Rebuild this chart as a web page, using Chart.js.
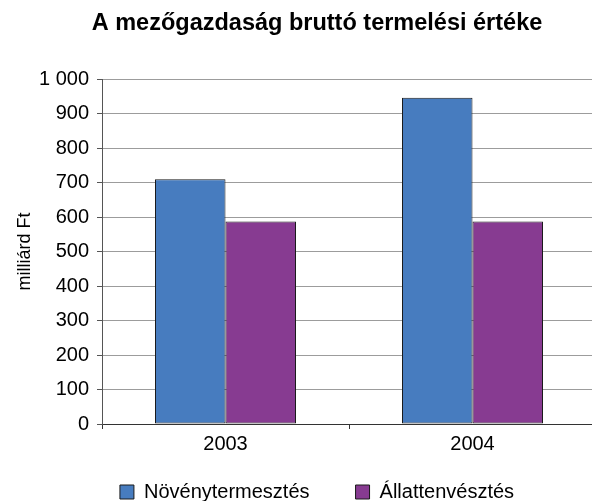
<!DOCTYPE html>
<html>
<head>
<meta charset="utf-8">
<script src="https://cdn.jsdelivr.net/npm/chart.js@4/dist/chart.umd.min.js"></script>
<style>
  html, body { margin: 0; padding: 0; background: #fff; overflow: hidden; }
  #wrap { width: 634px; height: 512px; }
</style>
</head>
<body>
<div id="wrap"><canvas id="chart" width="634" height="512"></canvas></div>
<script>
// --- datos ---
const years = ['2003', '2004'];
const crop = [710, 946];       // Növénytermesztés
const animal = [587, 587];     // Állattenvésztés
const seriesNames = ['Növénytermesztés', 'Állattenvésztés'];
const yMin = 0, yMax = 1000, yStep = 100;

const FONT = "'Liberation Sans', Arial, sans-serif";

// 1000 -> "1 000"
function fmt(v) {
    return String(v).replace(/\B(?=(\d{3})+(?!\d))/g, ' ');
}

new Chart(document.getElementById('chart'), {
    type: 'bar',
    data: {
        labels: years,
        datasets: [
            { label: seriesNames[0], data: crop, backgroundColor: '#477CBF', borderColor: '#1a1a1a', borderWidth: 1, borderSkipped: false },
            { label: seriesNames[1], data: animal, backgroundColor: '#873B91', borderColor: '#1a1a1a', borderWidth: 1, borderSkipped: false }
        ]
    },
    options: {
        responsive: false,
        animation: false,
        devicePixelRatio: 1,
        layout: { padding: 0 },
        datasets: { bar: { categoryPercentage: 0.571, barPercentage: 1 } },
        plugins: {
            tooltip: { enabled: false },
            title: {
                display: true,
                text: 'A mezőgazdaság bruttó termelési értéke',
                color: '#000',
                font: { family: FONT, size: 23.5, weight: 'bold' },
                padding: { top: 9.5, bottom: 41.5 }
            },
            legend: {
                position: 'bottom',
                labels: {
                    color: '#000',
                    font: { family: FONT, size: 20 },
                    boxWidth: 14, boxHeight: 14,
                    padding: 26,
                    // espacio extra entre las dos entradas
                    generateLabels: chart => Chart.defaults.plugins.legend.labels.generateLabels(chart)
                        .map((l, i) => { if (i === 0) l.text += '\u2003'; return l; })
                }
            }
        },
        scales: {
            x: {
                offset: true,
                grid: { offset: true, drawOnChartArea: false, drawTicks: true, tickLength: 5, tickColor: '#333' },
                border: { color: '#333', width: 1 },
                ticks: { color: '#000', font: { family: FONT, size: 20 }, padding: 3 },
                afterFit: s => { s.height = 32; }
            },
            y: {
                min: yMin, max: yMax,
                grid: { color: '#9c9c9c', tickLength: 5, tickColor: '#555' },
                border: { color: '#555', width: 1 },
                ticks: { stepSize: yStep, color: '#000', font: { family: FONT, size: 20 }, padding: 8, callback: v => fmt(v) },
                title: { display: true, text: 'milliárd Ft', color: '#000', font: { family: FONT, size: 18 }, padding: { top: 14, bottom: 0 } },
                afterFit: s => { s.width = 102; }
            },
            // eje vacío a la derecha: solo reserva espacio
            y2: {
                position: 'right',
                display: true,
                grid: { display: false },
                border: { display: false },
                ticks: { display: false },
                afterFit: s => { s.width = 38; }
            }
        }
    }
});
</script>
</body>
</html>
